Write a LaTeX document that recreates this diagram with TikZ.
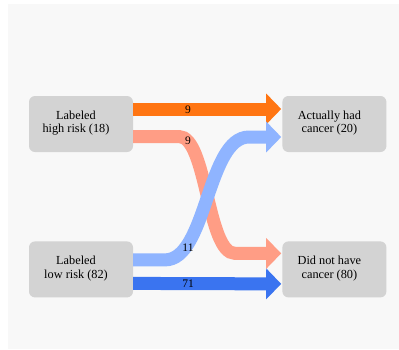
\documentclass[tikz,border=0pt]{standalone}
\usepackage{fontspec}
\setmainfont{Liberation Serif}
\usetikzlibrary{positioning,calc,arrows.meta}
\definecolor{bgcol}{HTML}{F8F8F8}
\definecolor{boxgray}{HTML}{D3D3D3}
\definecolor{hiyes}{HTML}{FF7512}
\definecolor{hino}{HTML}{FF9D85}
\definecolor{loyes}{HTML}{8FB4FF}
\definecolor{lono}{HTML}{3A74F0}
\tikzset{
  box/.style={fill=boxgray, rounded corners=6pt, minimum width=104pt,
    minimum height=56pt, inner sep=0pt},
  boxtext/.style={align=center, inner sep=0pt,
    font=\fontsize{12.3}{13.8}\selectfont},
  flow/.style={line width=13pt, -{Triangle[length=15pt,width=30pt]}},
  count/.style={inner sep=0pt, font=\fontsize{11.5}{12}\selectfont},
}

\begin{document}
\begin{tikzpicture}[x=1pt, y=-1pt]
    \useasboundingbox (0,0) rectangle (399,349);
    \fill[bgcol] (8,4) rectangle (399,349);
    % define boxes
    % predicted risk
    \node[box] (hi) at (81,124) {};
    \node[box, below=89pt of hi] (lo) {};
    % actual outcome
    \node[box, right=149pt of hi] (yes) {};
    \node[box, below=89pt of yes] (no) {};
    % box texts
    \node[boxtext] (hi_txt) at ($(hi.center)+(-5,-1)$) {Labeled\\high risk (18)};
    \node[boxtext] (lo_txt) at ($(lo.center)+(-5,-1)$) {Labeled\\low risk (82)};
    \node[boxtext] (yes_txt) at ($(yes.center)+(-5,-1)$) {Actually had\\cancer (20)};
    \node[boxtext] (no_txt) at ($(no.center)+(-5,-1)$) {Did not have\\cancer (80)};
    % flow ends
    \coordinate (hi_yes_a) at ($(hi.east)+(0,-15)$);
    \coordinate (hi_no_a) at ($(hi.east)+(0,12.5)$);
    \coordinate (lo_yes_a) at ($(lo.east)+(0,-9.5)$);
    \coordinate (lo_no_a) at ($(lo.east)+(0,14)$);
    \coordinate (hi_yes_b) at ($(yes.west)+(-1,-15)$);
    \coordinate (lo_yes_b) at ($(yes.west)+(-1,13)$);
    \coordinate (hi_no_b) at ($(no.west)+(-1,-16)$);
    \coordinate (lo_no_b) at ($(no.west)+(-1,14.5)$);
    % draw flows
    \draw[flow, hiyes] (hi_yes_a) -- (hi_yes_b);
    \draw[flow, hino] (hi_no_a) -- (hi_no_a -| 179,0)
        .. controls (hi_no_a -| 207,0) and (hi_no_b -| 207,0) .. (hi_no_b -| 235,0)
        -- (hi_no_b);
    \draw[flow, loyes] (lo_yes_a) -- (lo_yes_a -| 165,0)
        .. controls (lo_yes_a -| 207,0) and (lo_yes_b -| 207,0) .. (lo_yes_b -| 249,0)
        -- (lo_yes_b);
    \draw[flow, lono] (lo_no_a) -- (lo_no_b);
    % add counts
    \node[count] (hi_yes_n) at (188,109.5) {9};
    \node[count] (hi_no_n) at (188,141) {9};
    \node[count] (lo_yes_n) at (188,248) {11};
    \node[count] (lo_no_n) at (188,283.5) {71};
\end{tikzpicture}
\end{document}
